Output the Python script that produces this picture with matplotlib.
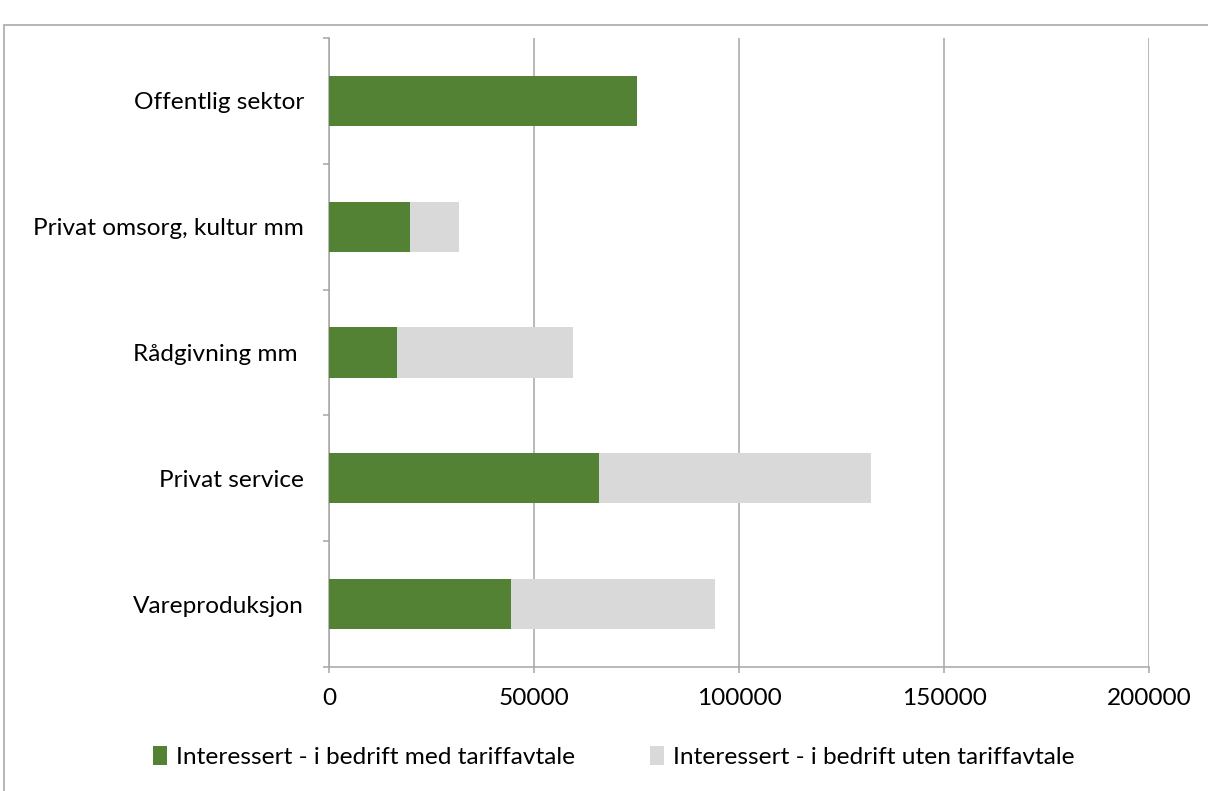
import matplotlib.pyplot as plt
from matplotlib.patches import Rectangle, Patch

kategorier = ['Vareproduksjon', 'Privat service', 'Rådgivning mm ', 'Privat omsorg, kultur mm', 'Offentlig sektor']
med_tariff = [44400, 65900, 16600, 19800, 75000]
uten_tariff = [49700, 66200, 42900, 11800, 0]
serier = ['Interessert - i bedrift med tariffavtale', 'Interessert - i bedrift uten tariffavtale']
farger = ['#548235', '#d9d9d9']

plt.rcParams['font.family'] = ['Lato', 'DejaVu Sans']
plt.rcParams['font.size'] = 17.6

fig = plt.figure(figsize=(12.08, 7.91), dpi=100)
ax = fig.add_axes([0.2724, 0.1568, 0.6788, 0.7952])

y = range(len(kategorier))
ax.barh(y, med_tariff, height=0.4, color=farger[0], zorder=3)
ax.barh(y, uten_tariff, height=0.4, left=med_tariff, color=farger[1], zorder=3)

ax.set_xlim(0, 200000)
ax.set_ylim(-0.5, len(kategorier) - 0.5)
ax.set_xticks([0, 50000, 100000, 150000, 200000])
ax.set_xticklabels(['0', '50000', '100000', '150000', '200000'])

# tick marks between categories, labels at the centres
ax.set_yticks([i - 0.5 for i in range(len(kategorier) + 1)])
ax.set_yticklabels([])
ax.set_yticks(list(y), minor=True)
ax.set_yticklabels(kategorier, minor=True)
ax.tick_params(axis='y', which='major', length=4.5, width=1.1, color='#a6a6a6')
ax.tick_params(axis='y', which='minor', length=0, pad=18)
ax.tick_params(axis='x', length=4.5, width=1.1, color='#a6a6a6', pad=11)

ax.grid(axis='x', color='#a6a6a6', linewidth=1.1, zorder=0)
for side in ['top', 'right']:
    ax.spines[side].set_visible(False)
for side in ['left', 'bottom']:
    ax.spines[side].set_color('#a6a6a6')
    ax.spines[side].set_linewidth(1.1)

handles = [Patch(facecolor=c, edgecolor='none') for c in farger]
fig.legend(handles, serier, loc='center', bbox_to_anchor=(0.508, 0.043), ncol=2,
           frameon=False, handlelength=0.6, handleheight=0.8, handletextpad=0.35,
           columnspacing=3.05)

fig.patches.append(Rectangle((0.0035, -0.02), 1.2, 1.0086 - 0.02, transform=fig.transFigure,
                             fill=False, edgecolor='#b0b0b0', linewidth=1.3))

fig.savefig('out.png', dpi=100)
